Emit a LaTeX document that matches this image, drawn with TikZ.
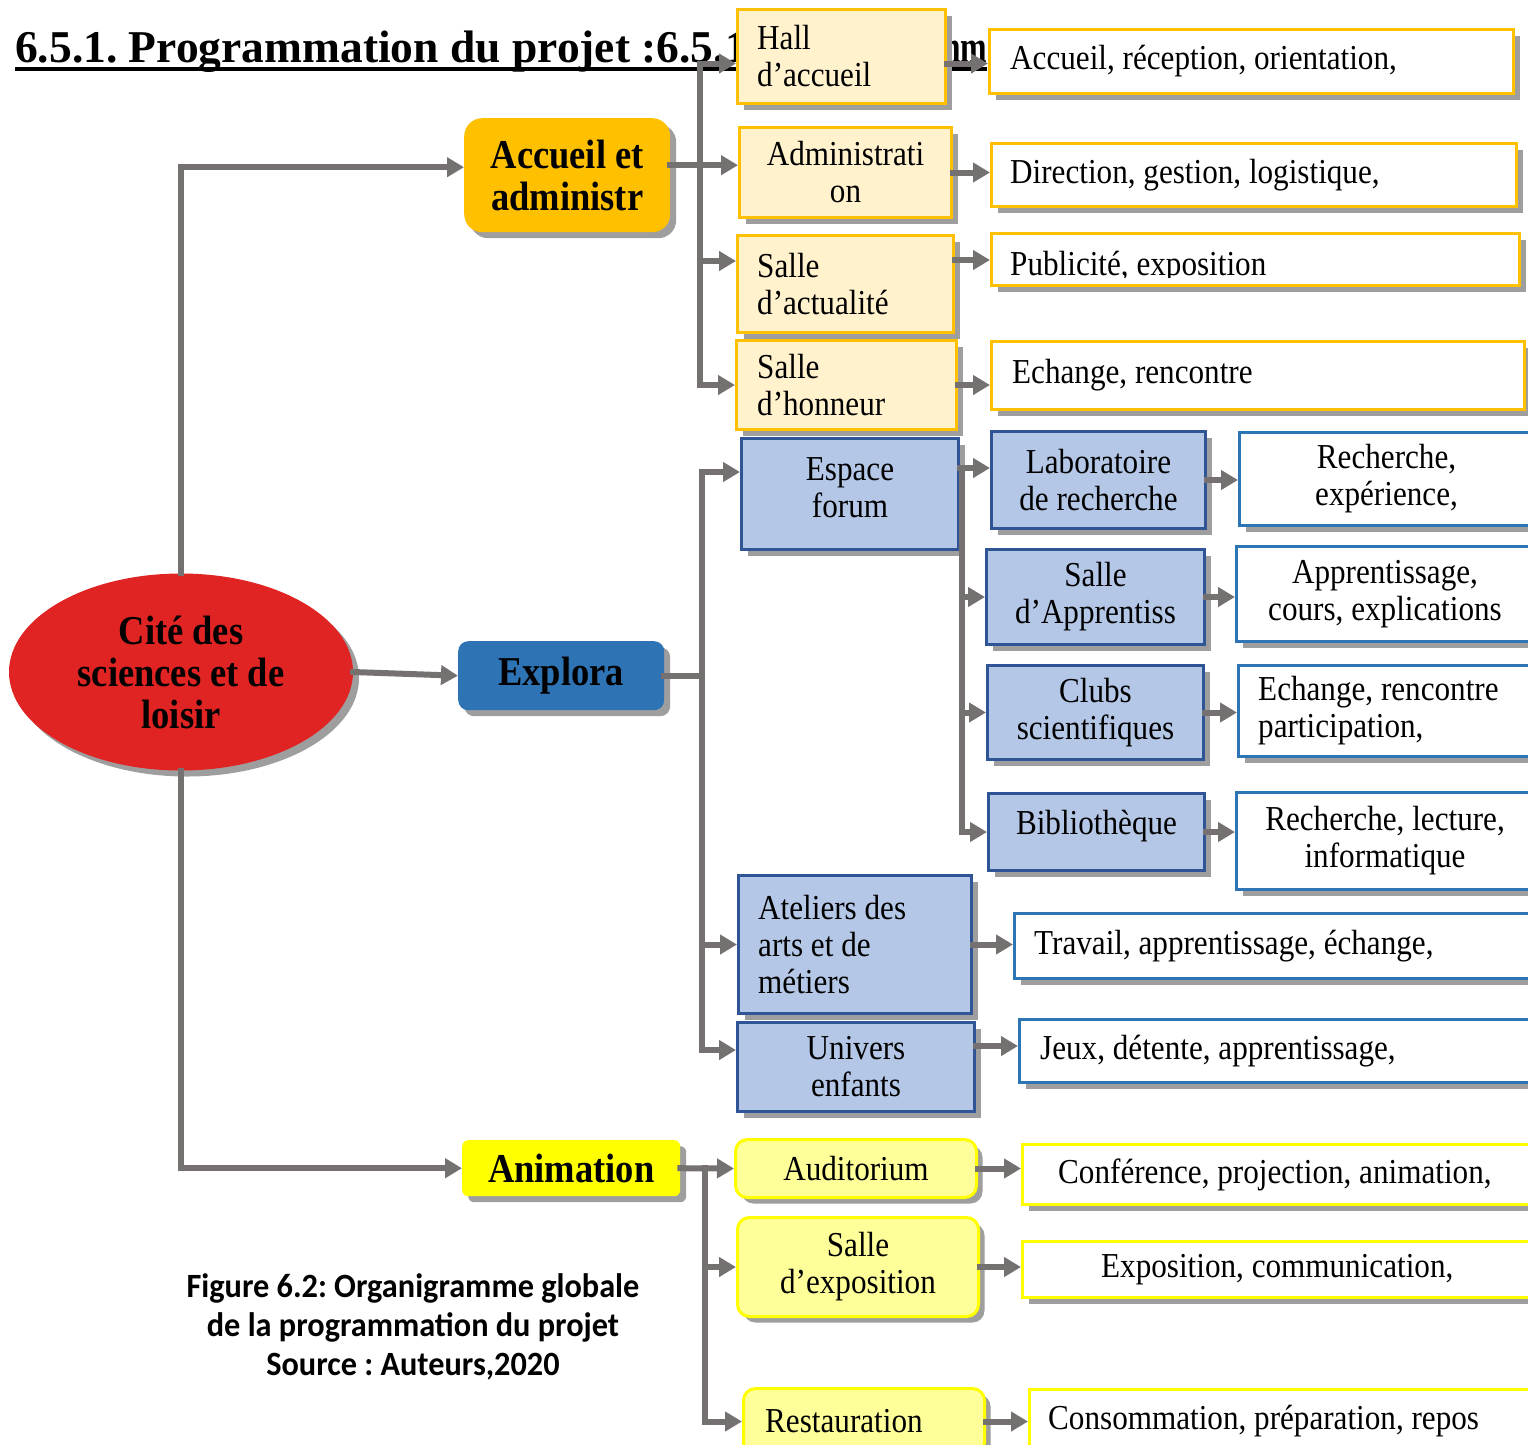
\documentclass[tikz,border=0pt]{standalone}
\usepackage{fontspec}
\usetikzlibrary{arrows.meta,shapes.geometric,shadows}
\setmainfont{Liberation Serif}
\newfontfamily\serifN{Liberation Serif}[FakeStretch=0.89]
\newfontfamily\serifT{Liberation Serif}
\newfontfamily\serifC{Liberation Serif}[FakeStretch=0.7]
\newfontfamily\calib{Carlito}[FakeStretch=0.95]
\newcommand\txtbody{\serifN\fontsize{35}{37}\selectfont}
\newcommand\txtbold{\serifN\bfseries\fontsize{41}{42}\selectfont}
\newcommand\txttitle{\serifT\bfseries\fontsize{45.5}{50}\selectfont}
\newcommand\txttitlec{\serifC\bfseries\fontsize{45.5}{50}\selectfont}
\newcommand\txtcap{\calib\bfseries\fontsize{34}{39}\selectfont}
\frenchspacing

\definecolor{cgray}{HTML}{767171}
\definecolor{shgray}{HTML}{9E9E9E}
\definecolor{gold}{HTML}{FFC000}
\definecolor{cream}{HTML}{FFF2CC}
\definecolor{blueF}{HTML}{B4C7E7}
\definecolor{blueD}{HTML}{2F5597}
\definecolor{blueL}{HTML}{2E75B6}
\definecolor{explblue}{HTML}{2E74B5}
\definecolor{rootred}{HTML}{E02424}
\definecolor{yelB}{HTML}{FFFF00}
\definecolor{yelL}{HTML}{FFFF99}

\tikzset{
  conn/.style={draw=cgray, line width=6pt, line cap=rect},
  arr/.style={conn, -{Triangle[length=17pt,width=19pt]}},
  shad/.style={drop shadow={shadow xshift=6pt, shadow yshift=-6pt, fill=shgray, opacity=1}},
  sz/.style n args={2}{minimum width=#1, minimum height=#2},
  boxbase/.style={shad, rectangle, line width=3pt, inner sep=0pt, anchor=north west, font=\txtbody},
  accbox/.style={boxbase, draw=gold, fill=cream},
  accdesc/.style={boxbase, draw=gold, fill=white},
  expbox/.style={boxbase, draw=blueD, fill=blueF},
  expdesc/.style={boxbase, draw=blueL, fill=white},
  anibox/.style={boxbase, draw=yelB, fill=yelL, rounded corners=12pt},
  anidesc/.style={boxbase, draw=yelB, fill=white},
  txt/.style={inner sep=0pt, font=\txtbody, anchor=west, align=left},
  mainbox/.style={shad, inner sep=0pt, font=\txtbold, align=center, anchor=north west},
}

\begin{document}
\begin{tikzpicture}[x=1pt, y=-1pt]
\useasboundingbox (0,0) rectangle (1528,1444);
\fill[white] (0,0) rectangle (1528,1444);

% heading; its continuation runs on behind the first boxes
\node[font=\txttitle, inner sep=0pt, anchor=base west] (ttl) at (15,62)
  {6.5.1. Programmation du projet :6.5.1.};
\node[font=\txttitlec, inner sep=0pt, anchor=base west] (ttlb) at (934,62) {mm};
\draw[line width=4.5pt] ([yshift=-7pt]ttl.base west) -- ([yshift=-7pt]ttlb.base east);

% root
\node[shad, ellipse, fill=rootred, minimum width=344pt, minimum height=197pt,
      inner sep=0pt, font=\txtbold, align=center] (root) at (181,672)
  {Cité des\\sciences et de\\loisir};

% first level
\node[mainbox, fill=gold, rounded corners=18pt, sz={206pt}{114pt}] (acc) at (464,118) {Accueil et\\administr};
\node[mainbox, fill=explblue, rounded corners=10pt, sz={206pt}{69pt}] (expl) at (458,641) {Explora};
\node[mainbox, fill=yelB, rounded corners=6pt, sz={218pt}{56pt}] (anim) at (462,1140) {Animation};

% Accueil et administration
\node[accbox, sz={208pt}{94pt}] (hall) at (736,8) {};
\node[txt] (hallt) at ([xshift=21pt]hall.west) {Hall\\d’accueil};
\node[accbox, sz={212pt}{90pt}, align=center] (adm) at (738,126) {Administrati\\on};
\node[accbox, sz={216pt}{97pt}] (act) at (736,234) {};
\node[txt] (actt) at ([xshift=21pt]act.west) {Salle\\d’actualité};
\node[accbox, sz={220pt}{89pt}] (hon) at (735,339) {};
\node[txt] (hont) at ([xshift=22pt]hon.west) {Salle\\d’honneur};

\node[accdesc, sz={524pt}{64pt}] (d1) at (988,28) {};
\node[txt] (d1t) at ([xshift=22pt]d1.west) {Accueil, réception, orientation,};
\node[accdesc, sz={525pt}{63pt}] (d2) at (990,142) {};
\node[txt] (d2t) at ([xshift=20pt]d2.west) {Direction, gestion, logistique,};
\node[accdesc, sz={528pt}{52pt}] (d3) at (990,232) {};
\begin{scope}
  \clip (1000,240) rectangle (1512,277);
  \node[txt, anchor=base west] (d3t) at (1010,275) {Publicité, exposition};
\end{scope}
\node[accdesc, sz={533pt}{68pt}] (d4) at (990,340) {};
\node[txt] (d4t) at ([xshift=22pt]d4.west) {Echange, rencontre};

% Explora
\node[expbox, sz={217pt}{111pt}] (forum) at (740,437) {};
\node[inner sep=0pt, font=\txtbody, align=center] (forumt) at ([yshift=6pt]forum.center) {Espace\\forum};
\node[expbox, sz={233pt}{138pt}] (atel) at (737,874) {};
\node[txt] (atelt) at ([xshift=21pt]atel.west) {Ateliers des\\arts et de\\métiers};
\node[expbox, sz={237pt}{89pt}, align=center] (univ) at (736,1021) {Univers\\enfants};
\node[expbox, sz={214pt}{97pt}, align=center] (lab) at (990,430) {Laboratoire\\de recherche};
\node[expbox, sz={218pt}{95pt}, align=center] (app) at (985,548) {Salle\\d’Apprentiss};
\node[expbox, sz={216pt}{94pt}, align=center] (club) at (986,664) {Clubs\\scientifiques};
\node[expbox, sz={216pt}{77pt}] (bib) at (987,792) {};
\node[inner sep=0pt, font=\txtbody] (bibt) at ([yshift=6pt]bib.center) {Bibliothèque};

\node[expdesc, sz={294pt}{93pt}, align=center] (e1) at (1238,431) {Recherche,\\expérience,};
\node[expdesc, sz={297pt}{95pt}, align=center] (e2) at (1235,545) {Apprentissage,\\cours, explications};
\node[expdesc, sz={313pt}{91pt}] (e3) at (1237,664) {};
\node[txt] (e3t) at ([xshift=21pt]e3.west) {Echange, rencontre\\participation,};
\node[expdesc, sz={297pt}{97pt}, align=center] (e4) at (1235,791) {Recherche, lecture,\\informatique};
\node[expdesc, sz={537pt}{65pt}] (e5) at (1013,912) {};
\node[txt] (e5t) at ([xshift=21pt]e5.west) {Travail, apprentissage, échange,};
\node[expdesc, sz={532pt}{63pt}] (e6) at (1018,1018) {};
\node[txt] (e6t) at ([xshift=22pt]e6.west) {Jeux, détente, apprentissage,};

% Animation
\node[anibox, sz={241pt}{58pt}, align=center] (aud) at (734,1138) {Auditorium};
\node[anibox, sz={241pt}{99pt}, align=center] (expo) at (736,1216) {Salle\\d’exposition};
\node[anibox, sz={241pt}{66pt}] (rest) at (742,1387) {};
\node[txt] (restt) at ([xshift=23pt]rest.west) {Restauration};

\node[anidesc, sz={529pt}{60pt}] (f1) at (1021,1143) {};
\node[txt] (f1t) at ([xshift=37pt]f1.west) {Conférence, projection, animation,};
\node[anidesc, sz={529pt}{56pt}] (f2) at (1021,1240) {};
\node[txt] (f2t) at ([xshift=80pt]f2.west) {Exposition, communication,};
\node[anidesc, sz={522pt}{64pt}] (f3) at (1028,1388) {};
\node[txt] (f3t) at ([xshift=20pt]f3.west) {Consommation, préparation, repos};

% caption
\node[font=\txtcap, align=center, inner sep=0pt] (cap) at (413,1327)
  {Figure 6.2: Organigramme globale\\de la programmation du projet\\Source : Auteurs,2020};

% trunk positions and shifted ports
\coordinate (ta) at (700,0);
\coordinate (tb) at (702,0);
\coordinate (tc) at (962,0);
\coordinate (td) at (705,0);
\coordinate (accin) at ([yshift=8pt]acc.west);
\coordinate (accout) at ([yshift=10pt]acc.east);
\coordinate (hallin) at ([yshift=-7pt]hall.west);
\coordinate (actin) at ([yshift=23pt]act.west);
\coordinate (actout) at ([yshift=24pt]act.east);
\coordinate (forumin) at ([yshift=22pt]forum.west);
\coordinate (univin) at ([yshift=17pt]univ.west);
\coordinate (univout) at ([yshift=21pt]univ.east);
\coordinate (labin) at ([yshift=12pt]lab.west);

% connectors from the root
\draw[arr] (root.north) |- (accin);
\draw[arr] (root.east) -- (expl.west);
\draw[arr] (root.south) |- (anim.west);

% Accueil branch
\draw[arr] (accout) -- (accout -| adm.west);
\draw[arr] (ta |- hallin) |- (hon.west);
\draw[arr] (ta |- hallin) -- (hallin);
\draw[arr] (ta |- actin) -- (actin);
\draw[arr] (hallin -| hall.east) -- (hallin -| d1.west);
\draw[arr] (adm.east) -- (adm.east -| d2.west);
\draw[arr] (actout) -- (actout -| d3.west);
\draw[arr] (hon.east) -- (hon.east -| d4.west);

% Explora branch
\draw[conn] (expl.east) -- (expl.east -| tb);
\draw[arr] (tb |- forumin) |- (univin);
\draw[arr] (tb |- forumin) -- (forumin);
\draw[arr] (tb |- atel.west) -- (atel.west);
\draw[arr] (labin -| forum.east) -- (labin);
\draw[arr] (tc |- labin) |- (bib.west);
\draw[arr] (tc |- app.west) -- (app.west);
\draw[arr] (tc |- club.west) -- (club.west);
\draw[arr] (lab.east) -- (lab.east -| e1.west);
\draw[arr] (app.east) -- (app.east -| e2.west);
\draw[arr] (club.east) -- (club.east -| e3.west);
\draw[arr] (bib.east) -- (bib.east -| e4.west);
\draw[arr] (atel.east) -- (atel.east -| e5.west);
\draw[arr] (univout) -- (univout -| e6.west);

% Animation branch
\draw[arr] (anim.east) -- (aud.west);
\draw[arr] (td |- anim.east) |- (rest.west);
\draw[arr] (td |- expo.west) -- (expo.west);
\draw[arr] (aud.east) -- (aud.east -| f1.west);
\draw[arr] (expo.east) -- (expo.east -| f2.west);
\draw[arr] (rest.east) -- (rest.east -| f3.west);
\end{tikzpicture}
\end{document}
